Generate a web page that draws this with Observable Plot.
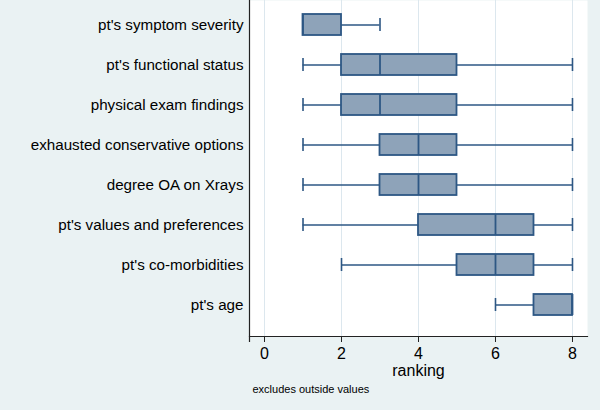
<!DOCTYPE html>
<html>
<head>
<meta charset="utf-8">
<script src="https://cdn.jsdelivr.net/npm/d3@7"></script>
<script src="https://cdn.jsdelivr.net/npm/@observablehq/plot@0.6"></script>
<style>
  html, body { margin: 0; padding: 0; background: #EAF2F3; }
  #chart { width: 600px; height: 410px; }
</style>
</head>
<body>
<div id="chart"></div>
<script>
const categories = [
  "pt's symptom severity",
  "pt's functional status",
  "physical exam findings",
  "exhausted conservative options",
  "degree OA on Xrays",
  "pt's values and preferences",
  "pt's co-morbidities",
  "pt's age"
];
const whiskerLow  = [1, 1, 1, 1, 1, 1, 2, 6];
const quartile1   = [1, 2, 2, 3, 3, 4, 5, 7];
const medians     = [1, 3, 3, 4, 4, 6, 6, 8];
const quartile3   = [2, 5, 5, 5, 5, 7, 7, 8];
const whiskerHigh = [3, 8, 8, 8, 8, 8, 8, 8];
const xTicks = [0, 2, 4, 6, 8];

const rows = categories.map((c, i) => ({
  cat: c, lo: whiskerLow[i], q1: quartile1[i], med: medians[i], q3: quartile3[i], hi: whiskerHigh[i]
}));

const navy = "#2D5784";
const fillC = "#8EA3B9";
const xDomain = [-0.39, 8.39];

const chart = Plot.plot({
  width: 600,
  height: 410,
  marginLeft: 249,
  marginRight: 13,
  marginTop: 0,
  marginBottom: 74,
  style: {background: "#EAF2F3", fontFamily: "'Liberation Sans', Arial, sans-serif", color: "#000"},
  x: {domain: xDomain, label: null},
  y: {domain: categories, range: [-8.8, 336.5], padding: 0.484, label: null},
  marks: [
    Plot.frame({fill: "white", stroke: "none"}),
    Plot.gridX(xTicks, {stroke: "#DCE7EE", strokeOpacity: 1, strokeWidth: 1}),
    Plot.ruleX([xDomain[0]], {stroke: "#222", strokeWidth: 1.2, insetBottom: -6}),
    Plot.frame({anchor: "bottom", stroke: "#222", strokeWidth: 1.2}),
    Plot.axisX({ticks: xTicks, tickSize: 6, tickPadding: 5, fontSize: 16, label: null, stroke: "#222"}),
    Plot.axisY({tickSize: 0, tickPadding: 6, fontSize: 15.2, label: null}),
    Plot.ruleY(rows.filter(d => d.lo < d.q1), {y: "cat", x1: "lo", x2: "q1", stroke: navy, strokeWidth: 1.6}),
    Plot.ruleY(rows.filter(d => d.hi > d.q3), {y: "cat", x1: "q3", x2: "hi", stroke: navy, strokeWidth: 1.6}),
    Plot.tickX(rows.filter(d => d.lo < d.q1), {y: "cat", x: "lo", stroke: navy, strokeWidth: 1.6, insetTop: 4, insetBottom: 4}),
    Plot.tickX(rows.filter(d => d.hi > d.q3), {y: "cat", x: "hi", stroke: navy, strokeWidth: 1.6, insetTop: 4, insetBottom: 4}),
    Plot.barX(rows, {y: "cat", x1: "q1", x2: "q3", fill: fillC, stroke: navy, strokeWidth: 1.8}),
    Plot.tickX(rows, {y: "cat", x: "med", stroke: navy, strokeWidth: 1.8}),
    Plot.text(["ranking"], {frameAnchor: "bottom", dy: 34, fontSize: 16, lineAnchor: "middle"}),
    Plot.text(["excludes outside values"], {frameAnchor: "bottom-left", dx: 3, dy: 53, fontSize: 11, textAnchor: "start", lineAnchor: "middle"})
  ]
});
document.getElementById("chart").appendChild(chart);
</script>
</body>
</html>
